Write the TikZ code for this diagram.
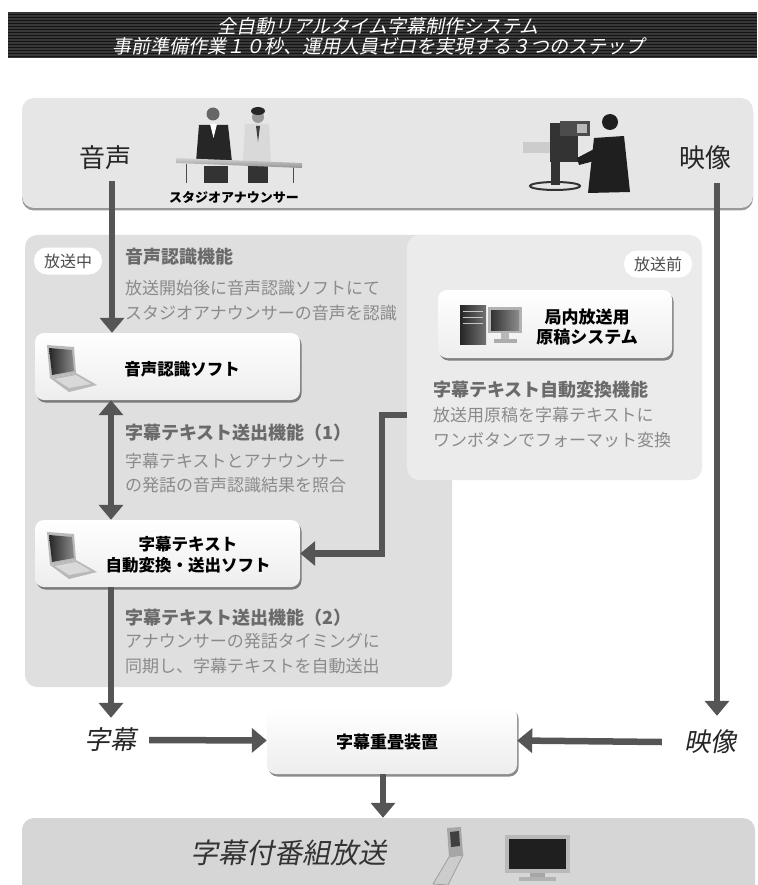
\documentclass[tikz,border=0pt]{standalone}
\usepackage{fontspec}
\setmainfont{Noto Sans CJK JP}
\newfontfamily\slantjp[FakeSlant=0.2]{Noto Sans CJK JP}
\usetikzlibrary{positioning,arrows.meta,shadows,calc}
\definecolor{flowgray}{HTML}{555555}
\definecolor{studiogray}{HTML}{E6E6E6}
\definecolor{onairgray}{HTML}{DFDFDF}
\definecolor{prepgray}{HTML}{EBEBEB}
\definecolor{airgray}{HTML}{D6D6D6}
\definecolor{headgray}{HTML}{6A6A6A}
\definecolor{descgray}{HTML}{8A8A8A}
\newcommand{\fsz}[1]{\fontsize{#1}{#1}\selectfont}
\tikzset{panel/.style={rounded corners=12pt, inner sep=0pt}}
\tikzset{box/.style={top color=white, bottom color=black!7, rounded corners=9pt, inner sep=0pt, minimum height=67pt,
    drop shadow={shadow xshift=1.5pt, shadow yshift=-2.5pt, fill=black, opacity=.45}}}
\tikzset{boxname/.style={inner sep=0pt, align=center, font=\fontsize{16.5}{21}\selectfont\bfseries}}
\tikzset{tag/.style={fill=white, rounded corners=13pt, minimum width=68pt, minimum height=27pt,
    inner sep=0pt, text=black!70, font=\fsz{16}}}
\tikzset{head/.style={anchor=west, inner sep=0pt, text=headgray, font=\fsz{18}\bfseries}}
\tikzset{desc/.style={anchor=west, inner sep=0pt, align=left, text=descgray, font=\fontsize{17}{24.5}\selectfont}}
\tikzset{big/.style={inner sep=0pt, text=black!85, font=\fsz{26}}}
\tikzset{flow/.style={draw=flowgray, line width=6.5pt, -{Triangle[width=24pt,length=15pt]}}}
\tikzset{flowboth/.style={flow, {Triangle[width=24pt,length=15pt]}-{Triangle[width=24pt,length=15pt]}}}
\tikzset{laptop/.pic={
    \fill[gray!55] (2,0) -- (29,2) -- (31,28) -- (5,33) -- cycle;
    \shade[left color=black!85, right color=black!45] (4,3) -- (27,5) -- (29,26) -- (7,30) -- cycle;
    \fill[gray!55] (5,33) -- (31,28) -- (52,40) -- (24,47) -- cycle;
    \fill[gray!30] (10,34) -- (31,30) -- (46,39) -- (24,43) -- cycle;
}}
\begin{document}
\begin{tikzpicture}[x=1pt, y=-1pt]
\useasboundingbox (0,0) rectangle (757,885);
\clip (0,0) rectangle (757,885);

% title bar
\node[fill=black!78, minimum width=749pt, minimum height=46pt, inner sep=0pt] (titlebar) at (382.5,35) {};
\foreach \i in {14,17,...,56} \draw[black!92, line width=.7pt] (8,\i) -- (757,\i);
\node[text=white, font=\slantjp\fsz{19}] (title1) at (378,26) {全自動リアルタイム字幕制作システム};
\node[text=white, font=\slantjp\fsz{19}] (title2) at (378,46) {事前準備作業１０秒、運用人員ゼロを実現する３つのステップ};

% studio
\node[panel, fill=studiogray, minimum width=731pt, minimum height=110pt,
    drop shadow={shadow xshift=0pt, shadow yshift=-2.5pt, fill=black, opacity=.4}] (studio) at (387.5,153) {};
\node[big] (voicein) at (105,158) {音声};
\node[big] (videoin) at (705,158) {映像};
% announcers at the desk
\fill[black!85] (199,125) -- (228,125) -- (232,162) -- (196,162) -- cycle;
\fill[white] (210,124) -- (217,124) -- (213.5,138) -- cycle;
\fill[black!60] (213,114) circle (6.5);
\fill[black!15] (245,124) -- (269,124) -- (271,162) -- (243,162) -- cycle;
\fill[black!75] (256,126) -- (260,126) -- (258,142) -- cycle;
\fill[black!40] (258,117) circle (6);
\fill[black!85] (258,111) ellipse (7 and 4);
\fill[black!80] (204,166) rectangle (228,183);
\fill[black!80] (248,166) rectangle (268,183);
\draw[black!70, line width=1pt] (186,164) -- (186,183) (293,167) -- (293,183);
\shade[top color=gray!35, bottom color=gray!85] (176,158) -- (302,163) -- (302,168) -- (176,163) -- cycle;
\node[inner sep=0pt, font=\fsz{13}\bfseries] (anncap) at (234,197) {スタジオアナウンサー};
% camera and operator
\fill[gray!40] (523,142) rectangle (550,153);
\fill[black!80] (550,123) rectangle (578,162);
\fill[black!70] (560,121) rectangle (590,136);
\fill[gray!55] (577,124) rectangle (587,133);
\fill[black!80] (551,162) rectangle (560,185);
\draw[black!80, line width=2pt] (555,186) ellipse (25 and 4);
\fill[black!88] (610,122) circle (8);
\fill[black!88] (594,138) -- (624,136) -- (630,192) -- (588,193) -- cycle;
\fill[black!88] (596,148) -- (577,158) -- (579,165) -- (598,160) -- cycle;

% on air / preparation panels
\node[panel, fill=onairgray, minimum width=427pt, minimum height=452pt] (onair) at (238.5,461) {};
\node[panel, fill=prepgray, minimum width=295pt, minimum height=245pt] (prep) at (554.5,357.5) {};
\node[tag] (onairtag) at (68,261) {放送中};
\node[tag] (preptag) at (658,264) {放送前};

\node[head] (asrhead) at (125,257) {音声認識機能};
\node[desc] (asrdesc) at (125,300.5) {放送開始後に音声認識ソフトにて\\スタジオアナウンサーの音声を認識};
\node[box, minimum width=265pt] (asr) at (167.5,366.5) {};
\pic at (45,345) {laptop};
\node[boxname] (asrname) at (182,369) {音声認識ソフト};

\node[head] (sendhead1) at (125,433) {字幕テキスト送出機能（1）};
\node[desc] (senddesc1) at (125,473) {字幕テキストとアナウンサー\\の発話の音声認識結果を照合};
\node[box, minimum width=265pt] (sub) at (167.5,553.5) {};
\pic at (45,532) {laptop};
\node[boxname] (subname) at (188,555) {字幕テキスト\\自動変換・送出ソフト};

\node[head] (sendhead2) at (125,618) {字幕テキスト送出機能（2）};
\node[desc] (senddesc2) at (125,653.5) {アナウンサーの発話タイミングに\\同期し、字幕テキストを自動送出};

\node[box, minimum width=234pt, minimum height=68pt] (mss) at (555,324) {};
\shade[left color=black!85, right color=black!55] (460,305) rectangle (486,344);
\foreach \j in {311,317,323} \draw[gray!45, line width=1pt] (463,\j) -- (483,\j);
\fill[gray!60] (488,307) rectangle (522,333);
\shade[left color=black!80, right color=black!45] (491,310) rectangle (519,330);
\fill[gray!55] (501,333) rectangle (509,339);
\fill[gray!65] (494,339) rectangle (517,343);
\node[boxname, font=\fontsize{17}{20.5}\selectfont\bfseries] (mssname) at (587,327) {局内放送用\\原稿システム};
\node[head] (convhead) at (433,390) {字幕テキスト自動変換機能};
\node[desc] (convdesc) at (433,427.5) {放送用原稿を字幕テキストに\\ワンボタンでフォーマット変換};

% bottom row
\node[big, font=\slantjp\fsz{26}] (subout) at (110,740) {字幕};
\node[big, font=\slantjp\fsz{26}] (videoout) at (710,742) {映像};
\node[box, minimum width=250pt] (mixer) at (392,740.5) {};
\node[boxname, font=\fsz{17}\bfseries] (mixername) at (387,742) {字幕重畳装置};
\node[panel, fill=airgray, minimum width=733pt, minimum height=87pt] (air) at (388.5,861.5) {};
\node[inner sep=0pt, text=black!80, font=\slantjp\fsz{28}] (airname) at (288,853) {字幕付番組放送};
% phone and television
\fill[gray!40] (449,857) -- (463,855) -- (448,885) -- (433,884) -- cycle;
\draw[gray!75, line width=.8pt] (449,857) -- (463,855) -- (448,885) -- (433,884) -- cycle;
\fill[gray!70] (447,828) -- (461,827) -- (463,855) -- (449,857) -- cycle;
\fill[black!75] (450,832) -- (459,831) -- (460,846) -- (451,847) -- cycle;
\fill[gray!55] (505,835) rectangle (570,873);
\fill[black!88] (509,839) rectangle (566,869);
\fill[gray!70] (530,873) rectangle (545,877);
\fill[gray!60] (519,877) rectangle (556,881);

% connectors
\coordinate (voicedrop) at (112,181);
\coordinate (lane) at (111,0);
\coordinate (videodrop) at (717,183);
\coordinate (convtap) at (407,415);
\draw[flow] (voicedrop) -- (voicedrop |- asr.north);
\draw[flowboth] (lane |- asr.south) -- (lane |- sub.north);
\draw[flow] (convtap) -- ++(-25,0) |- (sub.east);
\draw[flow] (lane |- sub.south) -- ([yshift=10pt]lane |- subout.north);
\draw[flow] ([xshift=13pt]subout.east) -- (mixer.west);
\draw[flow] (videodrop) -- ([yshift=14pt]videodrop |- videoout.north);
\draw[flow] ([xshift=-22pt]videoout.west) -- (mixer.east);
\draw[flow] ([xshift=-9pt]mixer.south) -- ([xshift=-9pt]mixer.south |- air.north);
\end{tikzpicture}
\end{document}
